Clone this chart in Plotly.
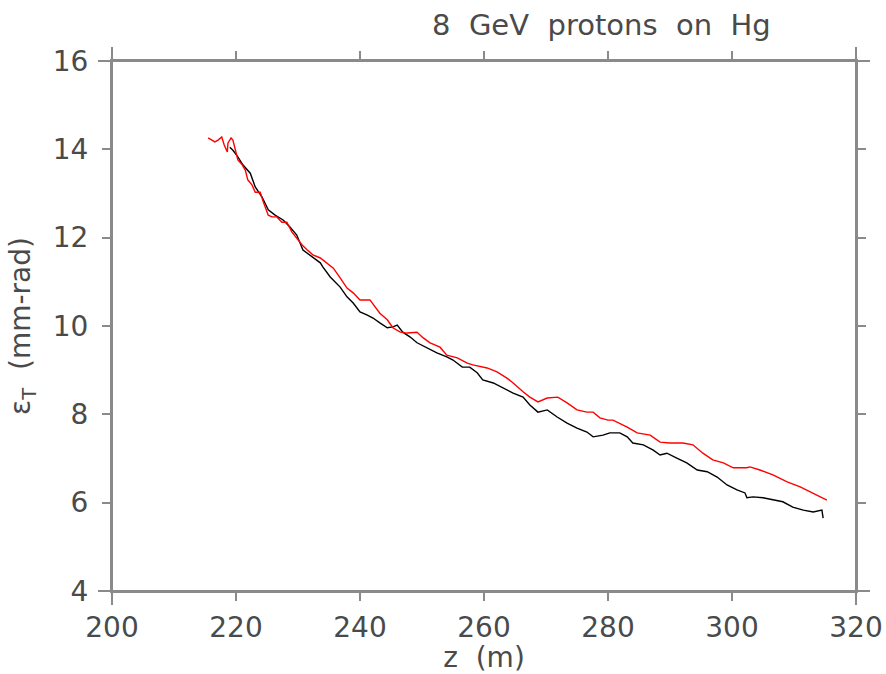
import plotly.graph_objects as go

# Red curve (z in m, emittance in mm-rad)
red_z = [215.5, 215.8, 216.6, 217.1, 217.7, 218.1, 218.6, 218.7, 219.2, 219.5, 220.0, 220.3,
         221.0, 221.5, 221.9, 222.6, 223.1, 223.9, 224.4, 225.2, 225.8, 226.6, 227.4, 228.2,
         229.0, 229.8, 230.7, 231.5, 232.4, 233.6, 234.7, 235.7, 236.8, 237.9, 238.9, 240.0,
         241.6, 242.4, 243.2, 244.4, 245.3, 246.5, 247.6, 249.2, 250.2, 251.3, 252.9, 254.0,
         255.7, 257.3, 258.2, 260.5, 262.1, 263.7, 264.7, 266.3, 267.4, 268.7, 270.2, 271.9,
         273.4, 275.0, 276.6, 277.6, 278.7, 280.0, 280.8, 283.1, 284.7, 286.8, 288.4, 290.0,
         292.1, 293.7, 295.3, 296.9, 298.6, 300.2, 302.4, 302.9, 304.5, 306.6, 308.9, 311.0,
         313.1, 315.3]
red_e = [14.26, 14.23, 14.17, 14.21, 14.28, 14.10, 13.94, 14.14, 14.26, 14.21, 13.94, 13.76,
         13.65, 13.53, 13.31, 13.19, 13.03, 13.03, 12.81, 12.51, 12.47, 12.47, 12.35, 12.35,
         12.13, 11.99, 11.83, 11.72, 11.61, 11.54, 11.43, 11.31, 11.09, 10.86, 10.75, 10.59,
         10.59, 10.43, 10.29, 10.14, 9.96, 9.86, 9.84, 9.86, 9.73, 9.62, 9.52, 9.34,
         9.28, 9.16, 9.12, 9.05, 8.96, 8.82, 8.71, 8.51, 8.39, 8.28, 8.37, 8.39,
         8.26, 8.10, 8.05, 8.05, 7.92, 7.87, 7.87, 7.71, 7.58, 7.53, 7.37, 7.35,
         7.35, 7.31, 7.12, 6.97, 6.90, 6.79, 6.79, 6.81, 6.74, 6.63, 6.47, 6.36,
         6.22, 6.06]

# Black curve
blk_z = [219.0, 219.5, 220.3, 221.1, 222.3, 223.1, 224.2, 225.2, 226.3, 227.6, 228.7, 229.8,
         230.8, 231.9, 233.6, 234.0, 235.2, 236.8, 237.9, 238.9, 240.0, 241.1, 242.1, 243.2,
         244.4, 245.3, 246.0, 246.9, 248.1, 249.2, 250.8, 252.4, 254.0, 255.0, 256.5, 257.7,
         258.9, 259.8, 261.5, 263.1, 264.7, 266.3, 267.4, 268.7, 270.2, 271.8, 273.4, 275.0,
         276.6, 277.6, 279.2, 280.3, 281.9, 283.1, 284.0, 285.7, 287.3, 288.4, 289.5, 291.1,
         292.7, 294.4, 296.0, 297.6, 299.2, 300.8, 302.1, 302.4, 303.4, 305.0, 306.6, 308.2,
         309.8, 311.5, 313.1, 314.5, 314.7]
blk_e = [14.05, 13.98, 13.83, 13.65, 13.46, 13.15, 12.92, 12.63, 12.51, 12.40, 12.24, 12.06,
         11.72, 11.61, 11.43, 11.34, 11.11, 10.88, 10.66, 10.52, 10.32, 10.25, 10.18, 10.07,
         9.96, 9.98, 10.02, 9.86, 9.75, 9.62, 9.50, 9.39, 9.30, 9.23, 9.07, 9.07,
         8.94, 8.78, 8.71, 8.60, 8.48, 8.39, 8.21, 8.05, 8.10, 7.94, 7.80, 7.69,
         7.60, 7.49, 7.53, 7.58, 7.58, 7.49, 7.35, 7.31, 7.19, 7.08, 7.12, 7.01,
         6.90, 6.74, 6.70, 6.58, 6.40, 6.29, 6.22, 6.11, 6.13, 6.11, 6.06, 6.02,
         5.90, 5.83, 5.79, 5.83, 5.65]

x_ticks = [200, 220, 240, 260, 280, 300, 320]
y_ticks = [4, 6, 8, 10, 12, 14, 16]

FONT = "DejaVu Sans"
TXT = "#4a4a4a"
AX = "#8a8a8a"
FS = 28

fig = go.Figure()
fig.add_trace(go.Scatter(x=blk_z, y=blk_e, mode="lines",
                         line=dict(color="black", width=1.4), showlegend=False))
fig.add_trace(go.Scatter(x=red_z, y=red_e, mode="lines",
                         line=dict(color="#ff0000", width=1.4), showlegend=False))

axis_common = dict(showgrid=False, zeroline=False, showline=True, linecolor=AX, linewidth=2,
                   mirror="allticks", ticks="outside", ticklen=8, tickwidth=2, tickcolor=AX,
                   automargin=False, tickfont=dict(family=FONT, size=FS, color=TXT))

fig.update_xaxes(range=[200, 320], tickvals=x_ticks, ticklabelstandoff=2, **axis_common,
                 title=dict(text="z  (m)", font=dict(family=FONT, size=FS, color=TXT), standoff=0))
fig.update_yaxes(range=[4, 16], tickvals=y_ticks, ticklabelstandoff=8, **axis_common,
                 title=dict(text="\u03b5<sub>T</sub>  (mm-rad)", font=dict(family=FONT, size=FS, color=TXT),
                            standoff=14))

# overshooting frame lines (corner crosses)
ox, oy = 14 / 744, 14 / 530
for (x0, y0, x1, y1) in [(-ox, 0, 1 + ox, 0), (-ox, 1, 1 + ox, 1), (0, -oy, 0, 1 + oy), (1, -oy, 1, 1 + oy)]:
    fig.add_shape(type="line", xref="paper", yref="paper", x0=x0, y0=y0, x1=x1, y1=y1,
                  line=dict(color=AX, width=2))

fig.add_annotation(text="8  GeV  protons  on  Hg", xref="paper", yref="paper",
                   x=(601 - 112) / 744, y=1 + (61 - 25) / 530, showarrow=False,
                   xanchor="center", yanchor="middle",
                   font=dict(family=FONT, size=FS + 1, color=TXT))

fig.update_layout(width=886, height=674, margin=dict(l=112, r=30, t=61, b=83),
                  plot_bgcolor="white", paper_bgcolor="white")

fig.write_html("out.html")
